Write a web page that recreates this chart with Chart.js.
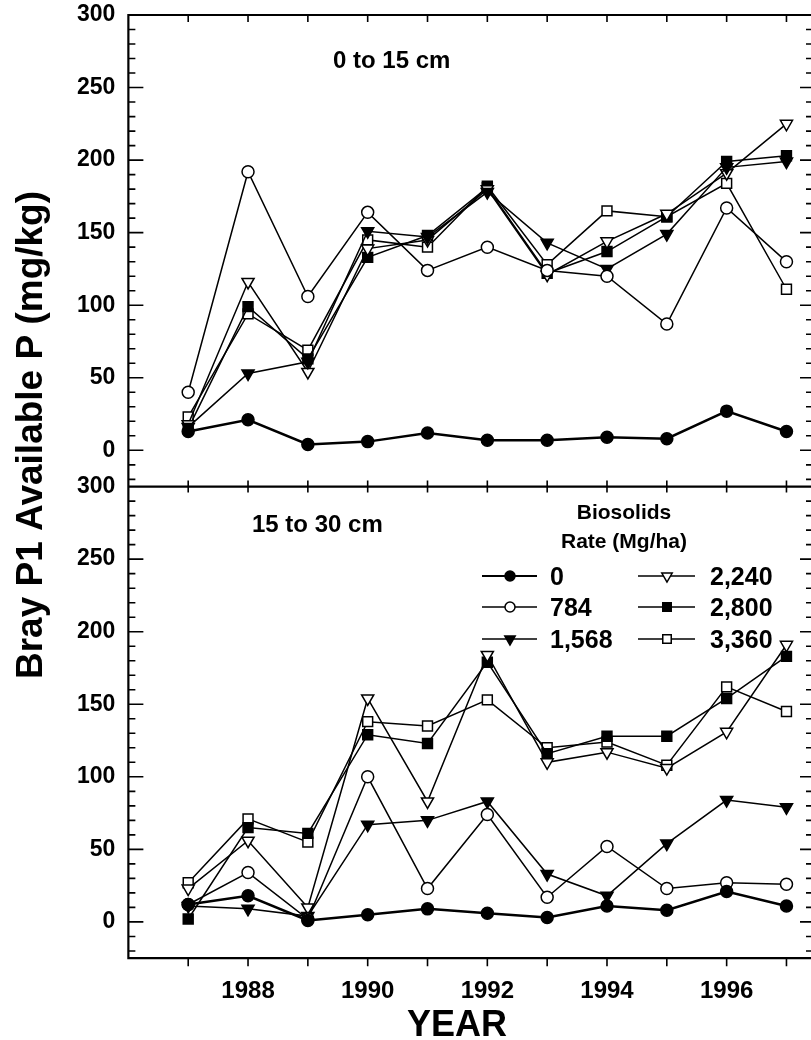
<!DOCTYPE html>
<html>
<head>
<meta charset="utf-8">
<script src="https://cdn.jsdelivr.net/npm/chart.js@4.4.1/dist/chart.umd.min.js"></script>
<style>
  html, body { margin: 0; padding: 0; background: #fff; }
  canvas { display: block; }
</style>
</head>
<body>
<canvas id="chart" width="811" height="1040"></canvas>
<script>
const years = [1987, 1988, 1989, 1990, 1991, 1992, 1993, 1994, 1995, 1996, 1997];
const yearLabels = [1988, 1990, 1992, 1994, 1996];
const valueLabels = [0, 50, 100, 150, 200, 250, 300];
const rates = ['0', '784', '1,568', '2,240', '2,800', '3,360'];

// 0 to 15 cm
const shallow0    = [13, 21, 4, 6, 12, 7, 7, 9, 8, 27, 13];
const shallow784  = [40, 192, 106, 164, 124, 140, 124, 120, 87, 167, 130];
const shallow1568 = [16, 53, 61, 151, 147, 178, 143, 125, 149, 195, 199];
const shallow2240 = [18, 116, 54, 139, 145, 180, 121, 144, 163, 191, 225];
const shallow2800 = [15, 99, 63, 133, 148, 181, 122, 137, 161, 199, 203];
const shallow3360 = [23, 94, 69, 145, 140, 182, 128, 165, 161, 184, 111];

// 15 to 30 cm
const deep0    = [12, 18, 1, 5, 9, 6, 3, 11, 8, 21, 11];
const deep784  = [12, 34, 2, 100, 23, 74, 17, 52, 23, 27, 26];
const deep1568 = [11, 9, 4, 67, 70, 83, 33, 18, 54, 84, 79];
const deep2240 = [23, 56, 10, 154, 83, 184, 110, 117, 106, 131, 191];
const deep2800 = [2, 65, 61, 129, 123, 179, 116, 128, 128, 154, 183];
const deep3360 = [27, 71, 55, 138, 135, 153, 120, 124, 108, 162, 145];

const FONT = "'Liberation Sans', Arial, sans-serif";

const markers = [
  { style: 'circle',   rot: 0,   fill: '#000', r: 6 },
  { style: 'circle',   rot: 0,   fill: '#fff', r: 6 },
  { style: 'triangle', rot: 180, fill: '#000', r: 7 },
  { style: 'triangle', rot: 180, fill: '#fff', r: 7 },
  { style: 'rect',     rot: 0,   fill: '#000', r: 7 },
  { style: 'rect',     rot: 0,   fill: '#fff', r: 7 }
];

function series(vals, i, axis) {
  const m = markers[i];
  return {
    label: rates[i],
    yAxisID: axis,
    data: years.map((yr, k) => ({ x: yr, y: vals[k] })),
    borderColor: '#000',
    borderWidth: i === 0 ? 2.5 : 1.5,
    tension: 0,
    fill: false,
    pointStyle: m.style,
    pointRotation: m.rot,
    pointRadius: m.r,
    pointHoverRadius: m.r,
    pointBackgroundColor: m.fill,
    pointBorderColor: '#000',
    pointBorderWidth: 1.5
  };
}

const shallow = [shallow0, shallow784, shallow1568, shallow2240, shallow2800, shallow3360];
const deep = [deep0, deep784, deep1568, deep2240, deep2800, deep3360];

const datasets = [
  ...shallow.map((v, i) => series(v, i, 'yTop')),
  ...deep.map((v, i) => series(v, i, 'yBottom'))
];

function depthAxis(weight) {
  return {
    type: 'linear',
    position: 'left',
    stack: 'depth',
    stackWeight: 1,
    weight: weight,
    min: -25,
    max: 300,
    grid: { display: false, drawTicks: false },
    border: { display: false },
    afterBuildTicks: (s) => { s.ticks = valueLabels.map(v => ({ value: v })); },
    ticks: {
      padding: 13,
      color: '#000',
      // small line height keeps the top label from pushing the plot down
      font: { family: FONT, size: 23, weight: 'bold', lineHeight: 0.1 },
      callback: (v) => String(v)
    }
  };
}

// axis lines and the small inward tick marks
const frame = {
  id: 'frame',
  afterDatasetsDraw(chart) {
    const { ctx, chartArea: a, scales } = chart;
    const x = scales.x, yt = scales.yTop, yb = scales.yBottom;
    ctx.save();
    ctx.strokeStyle = '#000';
    ctx.lineCap = 'butt';
    ctx.lineWidth = 2.2;
    ctx.beginPath();
    ctx.moveTo(a.left, a.top - 1); ctx.lineTo(a.left, a.bottom + 1);
    ctx.moveTo(a.left, yt.top); ctx.lineTo(a.right, yt.top);
    ctx.moveTo(a.left, yt.bottom); ctx.lineTo(a.right, yt.bottom);
    ctx.moveTo(a.left, yb.bottom); ctx.lineTo(a.right, yb.bottom);
    ctx.stroke();

    ctx.lineWidth = 1.6;
    ctx.beginPath();
    x.ticks.forEach(t => {
      const px = x.getPixelForValue(t.value);
      ctx.moveTo(px, yt.top); ctx.lineTo(px, yt.top + 7);
      ctx.moveTo(px, yt.bottom - 6); ctx.lineTo(px, yt.bottom + 6);
      ctx.moveTo(px, yb.bottom); ctx.lineTo(px, yb.bottom + 8);
    });
    [yt, yb].forEach(s => {
      for (let v = -20; v <= 290; v += 10) {
        const py = s.getPixelForValue(v);
        const major = v % 50 === 0;
        ctx.moveTo(a.left, py); ctx.lineTo(a.left + (major ? 15 : 7), py);
        ctx.moveTo(a.right, py); ctx.lineTo(a.right - (major ? 11 : 5), py);
      }
    });
    ctx.stroke();
    ctx.restore();
  }
};

// titles, panel captions and the rate key
const captions = {
  id: 'captions',
  afterDraw(chart) {
    const { ctx } = chart;
    ctx.save();
    ctx.fillStyle = '#000';

    ctx.font = `bold 37px ${FONT}`;
    ctx.textAlign = 'center';
    ctx.textBaseline = 'alphabetic';
    ctx.save();
    ctx.translate(42, 435);
    ctx.rotate(-Math.PI / 2);
    ctx.fillText('Bray P1 Available P (mg/kg)', 0, 0);
    ctx.restore();

    ctx.font = `bold 36px ${FONT}`;
    ctx.fillText('YEAR', 457, 1036);

    ctx.font = `bold 24px ${FONT}`;
    ctx.textAlign = 'left';
    ctx.fillText('0 to 15 cm', 333, 68);
    ctx.fillText('15 to 30 cm', 252, 532);

    ctx.font = `bold 21px ${FONT}`;
    ctx.textAlign = 'center';
    ctx.fillText('Biosolids', 624, 519);
    ctx.fillText('Rate (Mg/ha)', 624, 548);

    const cols = [{ x0: 482, x1: 537, mx: 510, tx: 550 }, { x0: 638, x1: 695, mx: 667, tx: 710 }];
    const rows = [585, 616, 648];
    ctx.font = `bold 25px ${FONT}`;
    ctx.textAlign = 'left';
    rates.forEach((name, i) => {
      const c = cols[Math.floor(i / 3)];
      const base = rows[i % 3];
      const cy = base - 9;
      const m = markers[i];
      ctx.strokeStyle = '#000';
      ctx.lineWidth = i === 0 ? 2.2 : 1.5;
      ctx.beginPath();
      ctx.moveTo(c.x0, cy); ctx.lineTo(c.x1, cy);
      ctx.stroke();
      ctx.fillStyle = m.fill;
      ctx.lineWidth = 1.5;
      Chart.helpers.drawPoint(ctx, {
        pointStyle: m.style, rotation: m.rot, radius: m.r - 1, borderWidth: 1.5
      }, c.mx, cy);
      ctx.fillStyle = '#000';
      ctx.fillText(name, c.tx, base);
    });
    ctx.restore();
  }
};

new Chart(document.getElementById('chart').getContext('2d'), {
  type: 'line',
  data: { datasets },
  options: {
    responsive: false,
    animation: false,
    layout: { autoPadding: false, padding: { top: 15, left: 64, right: 0, bottom: 15 } },
    plugins: { legend: { display: false }, tooltip: { enabled: false } },
    scales: {
      x: {
        type: 'linear',
        min: 1986,
        max: 1997.41,
        grid: { display: false, drawTicks: false },
        border: { display: false },
        afterBuildTicks: (s) => { s.ticks = years.map(v => ({ value: v })); },
        ticks: {
          autoSkip: false,
          maxRotation: 0,
          padding: 19,
          color: '#000',
          font: { family: FONT, size: 24, weight: 'bold' },
          callback: (v) => yearLabels.includes(v) ? String(v) : ''
        }
      },
      yTop: depthAxis(2),
      yBottom: depthAxis(1)
    }
  },
  plugins: [frame, captions]
});
</script>
</body>
</html>
